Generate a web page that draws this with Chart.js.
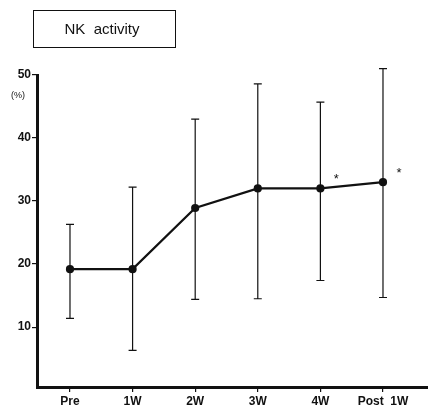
<!DOCTYPE html>
<html>
<head>
<meta charset="utf-8">
<script src="https://cdn.jsdelivr.net/npm/chart.js@4"></script>
<style>
  html, body { margin: 0; padding: 0; background: #fff; }
  #wrap { width: 428px; height: 414px; }
</style>
</head>
<body>
<div id="wrap"><canvas id="chart" width="428" height="414"></canvas></div>
<script>
const categories = ['Pre', '1W', '2W', '3W', '4W', 'Post  1W'];
const means = [19.2, 19.2, 28.9, 32.0, 32.0, 33.0];
const upper = [26.3, 32.2, 43.0, 48.6, 45.7, 51.0];
const lower = [11.4, 6.3, 14.4, 14.5, 17.4, 14.7];
const marked = [false, false, false, false, true, true];
const yTicks = [10, 20, 30, 40, 50];

const font = { family: 'Liberation Sans, Arial, sans-serif', size: 12, weight: 'bold' };

// error bars, asterisks, title box and unit label
const extras = {
    id: 'extras',
    afterDatasetsDraw(c) {
        const ctx = c.ctx, x = c.scales.x, y = c.scales.y;
        ctx.save();
        ctx.strokeStyle = '#111';
        ctx.lineWidth = 1.2;
        means.forEach((m, i) => {
            const px = x.getPixelForValue(i);
            const top = y.getPixelForValue(upper[i]);
            const bot = y.getPixelForValue(lower[i]);
            ctx.beginPath();
            ctx.moveTo(px, top); ctx.lineTo(px, bot);
            ctx.moveTo(px - 4, top); ctx.lineTo(px + 4, top);
            ctx.moveTo(px - 4, bot); ctx.lineTo(px + 4, bot);
            ctx.stroke();
            if (marked[i]) {
                ctx.fillStyle = '#111';
                ctx.font = '13px Liberation Sans, Arial, sans-serif';
                ctx.textAlign = 'center';
                ctx.textBaseline = 'middle';
                ctx.fillText('*', px + 16, y.getPixelForValue(m) - 9);
            }
        });
        // title box
        ctx.lineWidth = 1;
        ctx.strokeRect(33.5, 10.5, 142, 37);
        ctx.fillStyle = '#111';
        ctx.font = '15px Liberation Sans, Arial, sans-serif';
        ctx.textAlign = 'center';
        ctx.textBaseline = 'middle';
        ctx.fillText('NK  activity', 102, 30);
        // unit
        ctx.font = '9px Liberation Sans, Arial, sans-serif';
        ctx.fillText('(%)', 18, 96);
        ctx.restore();
    }
};

new Chart(document.getElementById('chart'), {
    type: 'line',
    data: {
        datasets: [{
            data: means.map((v, i) => ({ x: i, y: v })),
            borderColor: '#111',
            backgroundColor: '#111',
            borderWidth: 2.2,
            pointRadius: 3,
            tension: 0
        }]
    },
    options: {
        responsive: false,
        animation: false,
        layout: { autoPadding: false, padding: { top: 75, right: 0, left: 0, bottom: 0 } },
        plugins: { legend: { display: false }, tooltip: { enabled: false } },
        scales: {
            x: {
                type: 'linear',
                min: -0.527,
                max: 5.719,
                afterBuildTicks: s => { s.ticks = categories.map((_, i) => ({ value: i })); },
                afterFit: s => { s.height = 27; s.paddingRight = 0; s.paddingLeft = 0; },
                ticks: {
                    callback: v => categories[v],
                    color: '#111',
                    font: font,
                    maxRotation: 0,
                    autoSkip: false,
                    padding: 2
                },
                grid: { drawOnChartArea: false, drawTicks: true, tickLength: 5, color: '#111', lineWidth: 1.2 },
                border: { display: true, color: '#111', width: 3 }
            },
            y: {
                min: 0.5,
                max: 50,
                afterBuildTicks: s => { s.ticks = yTicks.map(v => ({ value: v })); },
                afterFit: s => { s.width = 37; },
                ticks: { color: '#111', font: font, padding: 1 },
                grid: { drawOnChartArea: false, drawTicks: true, tickLength: 5, color: '#111', lineWidth: 1.2 },
                border: { display: true, color: '#111', width: 3 }
            }
        }
    },
    plugins: [extras]
});
</script>
</body>
</html>
